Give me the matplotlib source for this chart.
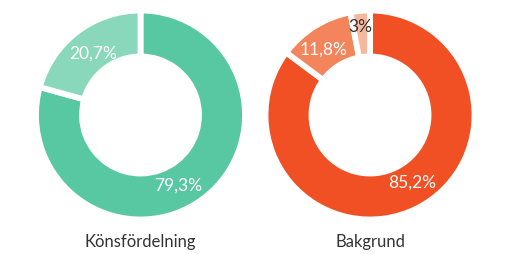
import matplotlib.pyplot as plt

# Data
gender_labels = ["Män", "Kvinnor"]
gender_values = [79.3, 20.7]
gender_text = ["79,3%", "20,7%"]

background_labels = ["Svensk", "Utländsk", "Övrigt"]
background_values = [85.2, 11.8, 3.0]
background_text = ["85,2%", "11,8%", "3%"]

gender_colors = ["#57c8a2", "#8ad8bc"]
background_colors = ["#f05023", "#f4845b", "#f7b79c"]

plt.rcParams["font.family"] = ["Lato", "DejaVu Sans"]

W, H = 520, 255
fig = plt.figure(figsize=(W / 100, H / 100), dpi=100)


def donut(cx, cy, r, values, colors, texts, text_pos, text_colors, title):
    # axes placed in pixel units so radius matches the reference
    ax = fig.add_axes([(cx - r) / W, 1 - (cy + r) / H, 2 * r / W, 2 * r / H])
    ax.pie(values, colors=colors, startangle=90, counterclock=False,
           radius=1, wedgeprops=dict(width=0.44, edgecolor="white", linewidth=4.2))
    ax.set_xlim(-1, 1)
    ax.set_ylim(-1, 1)
    ax.set_aspect("equal")
    ax.axis("off")
    for t, (px, py), c in zip(texts, text_pos, text_colors):
        fig.text(px / W, 1 - py / H, t, ha="center", va="center",
                 fontsize=12.5, color=c)
    fig.text(cx / W, 1 - 242 / H, title, ha="center", va="center",
             fontsize=12, color="#333333")


donut(140.5, 116, 104.5, gender_values, gender_colors, gender_text,
      [(178, 186), (93, 54)], ["white", "white"], "Könsfördelning")
donut(370, 116, 104.5, background_values, background_colors, background_text,
      [(412, 183), (324, 50), (360, 27)], ["white", "white", "#333333"], "Bakgrund")

plt.savefig("out.png", dpi=100)
